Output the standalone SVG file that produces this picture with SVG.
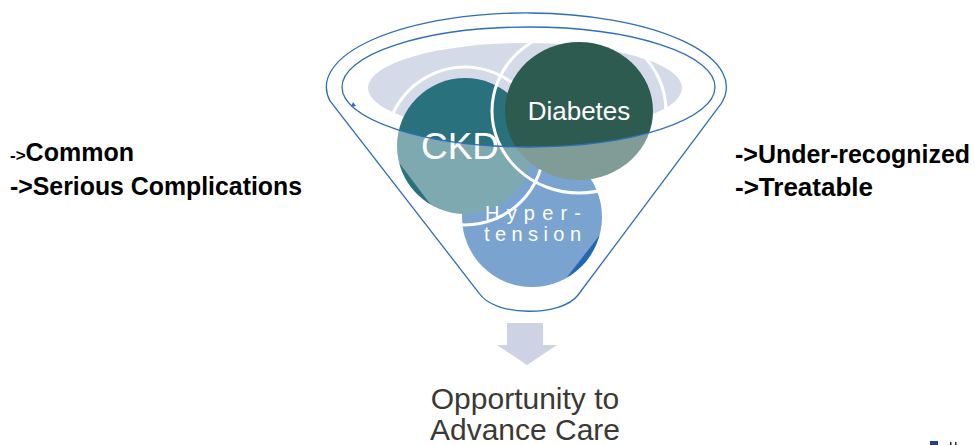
<svg xmlns="http://www.w3.org/2000/svg" width="975" height="445" viewBox="0 0 975 445">
  <style>
    .ring { fill: none; stroke: #ffffff; stroke-width: 3; }
    .rim { fill: none; stroke: #2f6db6; stroke-width: 1.3; }
    .inlabel { fill: #ffffff; font-family: "Liberation Sans", Arial, sans-serif; }
    .side { fill: #000000; font-family: "Liberation Sans", Arial, sans-serif; font-weight: bold; font-size: 25px; }
    .out { fill: #3b3935; font-family: "Liberation Sans", Arial, sans-serif; font-size: 30px; text-anchor: middle; }
  </style>
  <rect width="975" height="445" fill="#ffffff"/>

  <g id="funnel-back">
    <ellipse cx="525" cy="88" rx="157" ry="45" fill="#d5dae9"/>
  </g>

  <g id="hypertension">
    <circle cx="532" cy="217" r="70" fill="#2267b0"/>
  </g>

  <g id="ckd">
    <circle cx="465" cy="146" r="68" fill="#2a717e"/>
    <circle class="ring" cx="465" cy="146" r="79"/>
  </g>

  <g id="diabetes">
    <ellipse class="ring" cx="579" cy="111" rx="87" ry="82"/>
    <ellipse cx="579" cy="111" rx="74" ry="69" fill="#2e5b50"/>
  </g>

  <g id="funnel-front">
    <path d="M342,87 A186,60 0 0 0 715,87 L557,290 Q526,300 495,290 Z" fill="#ffffff" fill-opacity="0.4"/>
  </g>

  <g id="circle-labels">
    <text class="inlabel" x="460" y="159" font-size="37" text-anchor="middle">CKD</text>
    <text class="inlabel" x="579" y="120" font-size="26" text-anchor="middle">Diabetes</text>
    <text class="inlabel" x="485" y="220" font-size="20" textLength="96" lengthAdjust="spacing">Hyper-</text>
    <text class="inlabel" x="484" y="241" font-size="20" textLength="97" lengthAdjust="spacing">tension</text>
  </g>

  <g id="funnel-rim">
    <ellipse class="rim" cx="528.5" cy="87" rx="186.5" ry="60"/>
    <path class="rim" d="M330,101 A200,74 0 1 1 721,104 L578,295 C562,317 494,317 479,293 Z"/>
    <path d="M351,107 L353,102 L356,106 Z" fill="#2f6db6"/>
  </g>

  <g id="connectors">
    <polygon points="507,323 543,323 543,345 557,345 527,365 497,345 507,345" fill="#cdd3e5"/>
  </g>

  <g id="left-notes">
    <text class="side" x="10" y="161"><tspan font-size="17">-&gt;</tspan>Common</text>
    <text class="side" x="10" y="195" textLength="292" lengthAdjust="spacingAndGlyphs">-&gt;Serious Complications</text>
  </g>

  <g id="right-notes">
    <text class="side" x="735" y="163" textLength="235" lengthAdjust="spacingAndGlyphs">-&gt;Under-recognized</text>
    <text class="side" x="735" y="196" textLength="138" lengthAdjust="spacingAndGlyphs">-&gt;Treatable</text>
  </g>

  <g id="outcome">
    <text class="out" x="525" y="409">Opportunity to</text>
    <text class="out" x="525" y="440">Advance Care</text>
  </g>

  <g id="corner-logo">
    <rect x="930" y="441" width="8" height="4" fill="#2b3f7a"/>
    <rect x="950" y="442" width="1.5" height="3" fill="#333333"/>
    <rect x="955" y="442" width="1.5" height="3" fill="#333333"/>
  </g>
</svg>
